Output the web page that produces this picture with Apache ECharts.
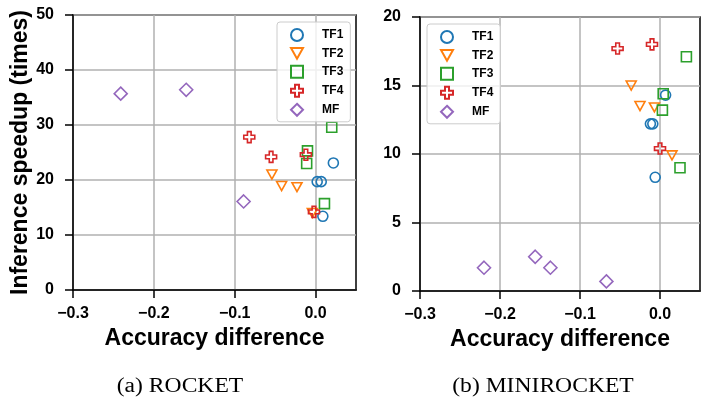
<!DOCTYPE html>
<html>
<head>
<meta charset="utf-8">
<script src="https://cdn.jsdelivr.net/npm/echarts@6/dist/echarts.min.js"></script>
<style>html,body{margin:0;padding:0;background:#fff}#c{width:701px;height:400px}</style>
</head>
<body>
<div id="c"></div>
<script>
// ---- data ----
const seriesNames = ['TF1', 'TF2', 'TF3', 'TF4', 'MF'];
// (a) ROCKET : [accuracy difference, inference speedup]
const rocketTF1 = [[0.022, 23.1], [0.002, 19.7], [0.007, 19.7], [0.009, 13.4]];
const rocketTF2 = [[-0.054, 21.0], [-0.042, 18.9], [-0.023, 18.7], [-0.004, 14.0]];
const rocketTF3 = [[0.020, 29.6], [-0.010, 25.3], [-0.011, 23.0], [0.011, 15.7]];
const rocketTF4 = [[-0.082, 27.8], [-0.055, 24.2], [-0.012, 24.6], [-0.002, 14.2]];
const rocketMF  = [[-0.241, 35.7], [-0.160, 36.4], [-0.089, 16.1]];
// (b) MINIROCKET
const miniTF1 = [[0.007, 14.3], [-0.012, 12.2], [-0.009, 12.2], [-0.006, 8.3]];
const miniTF2 = [[-0.036, 15.0], [-0.025, 13.5], [-0.007, 13.4], [0.015, 9.9]];
const miniTF3 = [[0.033, 17.1], [0.004, 14.4], [0.003, 13.2], [0.025, 9.0]];
const miniTF4 = [[-0.053, 17.7], [-0.010, 18.0], [0.000, 10.4]];
const miniMF  = [[-0.220, 1.7], [-0.156, 2.5], [-0.137, 1.7], [-0.067, 0.7]];
// tick labels
const xTicks = [-0.3, -0.2, -0.1, 0.0];
const yTicksRocket = [0, 10, 20, 30, 40, 50];
const yTicksMini = [0, 5, 10, 15, 20];
const captions = ['(a) ROCKET', '(b) MINIROCKET'];
const xTitle = 'Accuracy difference';
const yTitle = 'Inference speedup (times)';

// ---- styles ----
const colors = ['#1f77b4', '#ff7f0e', '#2ca02c', '#d62728', '#9467bd'];
const symbols = [
  'circle',
  'path://M0,0 L10,0 L5,9 Z',
  'rect',
  'path://M-1,-3 L1,-3 L1,-1 L3,-1 L3,1 L1,1 L1,3 L-1,3 L-1,1 L-3,1 L-3,-1 L-1,-1 Z',
  'diamond'
];
const sizes = [10, [10, 9], 10, 11, 13];

const rocketData = [rocketTF1, rocketTF2, rocketTF3, rocketTF4, rocketMF];
const miniData = [miniTF1, miniTF2, miniTF3, miniTF4, miniMF];

const tickFont = {color: '#000', fontSize: 16, fontWeight: 'bold', fontFamily: 'Liberation Sans'};
const fmtX = v => (v < 0 ? '\u2212' : '') + Math.abs(v).toFixed(1);

function xAxis(gi) {
  return {
    type: 'value', gridIndex: gi, min: -0.3, max: 0.05, interval: 0.1,
    name: xTitle, nameLocation: 'middle', nameGap: 37,
    nameTextStyle: {color: '#000', fontSize: 23, fontWeight: 'bold', fontFamily: 'Liberation Sans'},
    axisLine: {show: true, onZero: false, lineStyle: {color: '#000', width: 1.5}},
    axisTick: {show: true, inside: false, length: 8, lineStyle: {color: '#000', width: 1.5}, customValues: xTicks},
    axisLabel: Object.assign({margin: 16, formatter: fmtX, customValues: xTicks}, tickFont),
    splitLine: {show: true, lineStyle: {color: '#b0b0b0', width: 1.5}}
  };
}
function yAxis(gi, max, interval, ticks, withName) {
  const a = {
    type: 'value', gridIndex: gi, min: 0, max: max, interval: interval,
    axisLine: {show: true, onZero: false, lineStyle: {color: '#000', width: 1.5}},
    axisTick: {show: true, inside: false, length: 8, lineStyle: {color: '#000', width: 1.5}, customValues: ticks},
    axisLabel: Object.assign({margin: 19, customValues: ticks}, tickFont),
    splitLine: {show: true, lineStyle: {color: '#b0b0b0', width: 1.5}}
  };
  if (withName) {
    a.name = yTitle; a.nameLocation = 'middle'; a.nameGap = 37;
    a.nameTextStyle = {color: '#000', fontSize: 23, fontWeight: 'bold', fontFamily: 'Liberation Sans'};
  }
  return a;
}

const series = [];
[rocketData, miniData].forEach((set, gi) => {
  set.forEach((d, i) => {
    series.push({
      type: 'scatter', name: seriesNames[i], xAxisIndex: gi, yAxisIndex: gi,
      data: d, symbol: symbols[i], symbolSize: sizes[i],
      itemStyle: {color: 'rgba(255,255,255,0)', borderColor: colors[i], borderWidth: 1.6, opacity: 1},
      emphasis: {disabled: true}, animation: false
    });
  });
});

function legend(left, top) {
  return {
    data: seriesNames, orient: 'vertical', left: left, top: top,
    itemWidth: 12, itemHeight: 12, itemGap: 5, symbolKeepAspect: true,
    padding: [6, 7, 5, 13],
    backgroundColor: 'rgba(255,255,255,0.8)', borderColor: '#cccccc', borderWidth: 1, borderRadius: 3,
    textStyle: {color: '#000', fontSize: 12, lineHeight: 12, fontWeight: 'bold', fontFamily: 'Liberation Sans', padding: [0, 0, 0, 14]},
    selectedMode: false
  };
}

const chart = echarts.init(document.getElementById('c'), null, {renderer: 'canvas'});
chart.setOption({
  animation: false,
  backgroundColor: '#fff',
  grid: [
    {left: 73, right: 345, top: 15, bottom: 110, show: true, borderColor: '#000', borderWidth: 1.5, backgroundColor: 'transparent'},
    {left: 420, right: 1, top: 17, bottom: 109, show: true, borderColor: '#000', borderWidth: 1.5, backgroundColor: 'transparent'}
  ],
  xAxis: [xAxis(0), xAxis(1)],
  yAxis: [yAxis(0, 50, 10, yTicksRocket, true), yAxis(1, 20, 5, yTicksMini, false)],
  legend: [legend(277, 22), legend(427, 24)],
  graphic: [
    {type: 'text', x: 180, y: 387, scaleX: 1.18, style: {text: captions[0], font: '20px "Liberation Serif"', fill: '#000', textAlign: 'center', textVerticalAlign: 'middle'}},
    {type: 'text', x: 543, y: 387, scaleX: 1.18, style: {text: captions[1], font: '20px "Liberation Serif"', fill: '#000', textAlign: 'center', textVerticalAlign: 'middle'}}
  ],
  series: series
});
</script>
</body>
</html>
